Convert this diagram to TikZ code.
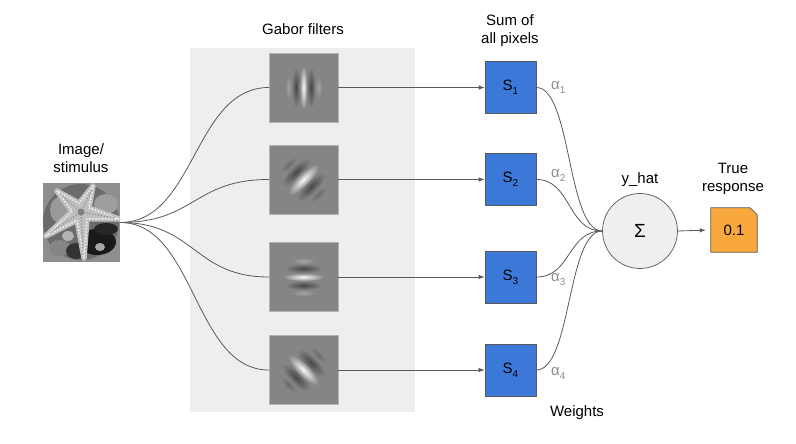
\documentclass[tikz,border=0pt]{standalone}
\usepackage{fontspec}
\setmainfont{Liberation Sans}
\usetikzlibrary{arrows.meta,backgrounds}
\definecolor{panel}{HTML}{EEEEEE}
\definecolor{sblue}{HTML}{3C78D8}
\definecolor{edge}{HTML}{595959}
\definecolor{orng}{HTML}{F9A83E}
\definecolor{circfill}{HTML}{EFEFEF}
\definecolor{gbg}{HTML}{858585}
\definecolor{alph}{HTML}{8C8C8C}
\definecolor{imgbg}{HTML}{8E8E8E}
\begin{document}
\begin{tikzpicture}[x=1pt,y=-1pt,
  lbl/.style={font=\fontsize{15}{18}\selectfont, align=center, text=black, inner sep=0pt},
  sbox/.style={draw=edge, fill=sblue, minimum width=51pt, minimum height=52pt, line width=0.7pt, inner sep=0pt, font=\fontsize{15}{18}\selectfont},
  gabor/.style={fill=gbg, draw=gray!60, line width=0.4pt, minimum size=69pt, inner sep=0pt},
  conn/.style={draw=edge, line width=0.8pt},
  arr/.style={conn, -{Latex[length=6pt,width=4.5pt]}},
  alphalbl/.style={font=\fontsize{15}{18}\selectfont, text=alph, inner sep=0pt, anchor=west},
  darkstripe/.style={inner color=black!72, outer color=gbg},
  whitestripe/.style={inner color=white!95!gbg, outer color=gbg},
  faintstripe/.style={inner color=gbg!75!white, outer color=gbg},
  faintdark/.style={inner color=gbg!80!black, outer color=gbg}
]
\useasboundingbox (0,0) rectangle (796,444);

% panel
\fill[panel] (190,48) rectangle (415,412);

% texts
\node[lbl] (tgabor) at (303,29) {Gabor filters};
\node[lbl] (timg) at (81,158) {Image/\\stimulus};
\node[lbl] (tsum) at (510,31) {Sum of\\all pixels};
\node[lbl] (tyhat) at (640,180) {y\_hat};
\node[lbl] (ttrue) at (733,179) {True\\response};
\node[lbl] (tweights) at (577,413) {Weights};

% image / stimulus
\node[fill=imgbg, minimum width=77pt, minimum height=79pt, inner sep=0pt] (img) at (81.5,222.5) {};
\begin{scope}
  \clip (img.south west) rectangle (img.north east);
  \fill[black!58] (81,222) circle (38);
  \fill[black!38] (106,204) ellipse (12 and 10);
  \fill[black!40] (60,210) ellipse (10 and 13);
  \fill[black!48] (60,248) ellipse (11 and 8);
  \fill[black!30] (68,236) ellipse (6 and 5);
  \fill[black!90] (97,242) ellipse (19 and 13);
  \fill[black!80] (76,251) ellipse (10 and 8);
  \fill[black!85] (106,229) ellipse (12 and 6);
  \fill[black!35] (100,247) ellipse (5 and 4);
  \filldraw[fill=black!25, draw=black!25, line width=5.5pt, line join=round]
    (93,186) -- (79.1,203.2) -- (57,191) -- (72,211.4) -- (46,236) -- (77.1,220.1)
    -- (84,258) -- (87,218.7) -- (119,219) -- (89,207.9) -- cycle;
  \draw[white!92!black, line width=2.4pt, dash pattern=on 0pt off 3.2pt, line cap=round, line join=round]
    (93,186) -- (79.1,203.2) -- (57,191) -- (72,211.4) -- (46,236) -- (77.1,220.1)
    -- (84,258) -- (87,218.7) -- (119,219) -- (89,207.9) -- cycle;
  \draw[black!45, line width=1.6pt, dash pattern=on 0pt off 3pt, line cap=round]
    (81,212) -- (92,190) (81,212) -- (60,194) (81,212) -- (50,233) (81,212) -- (83,254) (81,212) -- (115,218);
  \fill[black!50] (81,212) circle (3.5);
\end{scope}

% gabor filters
\node[gabor] (g1) at (303.5,87.5) {};
\node[gabor] (g2) at (303.5,179.5) {};
\node[gabor] (g3) at (303.5,277) {};
\node[gabor] (g4) at (303.5,370) {};

\begin{scope}
  \clip (g1.south west) rectangle (g1.north east);
  \begin{scope}[shift={(g1.center)}]
    \shade[faintstripe] (-15,0) ellipse (3.5 and 12);
    \shade[faintstripe] (15,0) ellipse (3.5 and 12);
    \shade[darkstripe] (-7.5,0) ellipse (4.5 and 21);
    \shade[darkstripe] (7.5,0) ellipse (4.5 and 21);
    \shade[whitestripe] (0,0) ellipse (3.8 and 23);
  \end{scope}
\end{scope}
\begin{scope}
  \clip (g2.south west) rectangle (g2.north east);
  \begin{scope}[transform canvas={shift={(g2.center)}, rotate=-45}]
    \shade[faintdark] (-21,0) ellipse (4 and 11);
    \shade[faintdark] (21,0) ellipse (4 and 11);
    \shade[darkstripe] (-10.5,0) ellipse (6.5 and 19);
    \shade[darkstripe] (10.5,0) ellipse (6.5 and 19);
    \shade[whitestripe] (0,0) ellipse (6 and 21);
  \end{scope}
\end{scope}
\begin{scope}
  \clip (g3.south west) rectangle (g3.north east);
  \begin{scope}[shift={(g3.center)}]
    \shade[faintstripe] (0,-16) ellipse (12 and 3.5);
    \shade[faintstripe] (0,16) ellipse (12 and 3.5);
    \shade[darkstripe] (0,-8.5) ellipse (19 and 4.5);
    \shade[darkstripe] (0,8.5) ellipse (19 and 4.5);
    \shade[whitestripe] (0,0) ellipse (21 and 4);
  \end{scope}
\end{scope}
\begin{scope}
  \clip (g4.south west) rectangle (g4.north east);
  \begin{scope}[transform canvas={shift={(g4.center)}, rotate=45}]
    \shade[faintdark] (-21,0) ellipse (4 and 11);
    \shade[faintdark] (21,0) ellipse (4 and 11);
    \shade[darkstripe] (-10.5,0) ellipse (6.5 and 19);
    \shade[darkstripe] (10.5,0) ellipse (6.5 and 19);
    \shade[whitestripe] (0,0) ellipse (6 and 21);
  \end{scope}
\end{scope}

% sum boxes
\node[sbox] (s1) at (510.5,87.5) {S\raisebox{-4pt}{\fontsize{10}{10}\selectfont 1}};
\node[sbox] (s2) at (510.5,179.5) {S\raisebox{-4pt}{\fontsize{10}{10}\selectfont 2}};
\node[sbox] (s3) at (510.5,277) {S\raisebox{-4pt}{\fontsize{10}{10}\selectfont 3}};
\node[sbox] (s4) at (510.5,370) {S\raisebox{-4pt}{\fontsize{10}{10}\selectfont 4}};

% sum circle
\node[circle, draw=edge, fill=circfill, line width=0.7pt, minimum size=75pt, inner sep=0pt,
      font=\fontsize{19}{22}\selectfont] (sum) at (640,231) {Σ};

% true response
\node[minimum width=46pt, minimum height=44pt, inner sep=0pt, font=\fontsize{15}{18}\selectfont] (tr) at (734,230) {0.1};
\begin{scope}[on background layer]
  \filldraw[fill=orng, draw=edge, line width=0.7pt]
    (tr.south west) -- (tr.north west) -- ([xshift=-7pt]tr.north east)
    -- ([yshift=-7pt]tr.north east) -- (tr.south east) -- cycle;
\end{scope}

% connectors image -> gabors
\draw[conn] (img.east) .. controls +(75,0) and +(-75,0) .. (g1.west);
\draw[conn] (img.east) .. controls +(75,0) and +(-75,0) .. (g2.west);
\draw[conn] (img.east) .. controls +(75,0) and +(-75,0) .. (g3.west);
\draw[conn] (img.east) .. controls +(75,0) and +(-75,0) .. (g4.west);

% gabors -> sums
\draw[arr] (g1.east) -- (s1.west);
\draw[arr] (g2.east) -- (s2.west);
\draw[arr] (g3.east) -- (s3.west);
\draw[arr] (g4.east) -- (s4.west);

% sums -> circle
\draw[conn] (s1.east) .. controls +(35,0) and +(-35,0) .. (sum.west);
\draw[conn] (s2.east) .. controls +(35,0) and +(-35,0) .. (sum.west);
\draw[conn] (s3.east) .. controls +(35,0) and +(-35,0) .. (sum.west);
\draw[conn] (s4.east) .. controls +(35,0) and +(-35,0) .. (sum.west);

% circle -> true response
\draw[arr, shorten >=5pt] (sum.east) -- (tr.west);

% weights
\node[alphalbl] (a1) at (551,87) {α\raisebox{-4pt}{\fontsize{10}{10}\selectfont 1}};
\node[alphalbl] (a2) at (551,175) {α\raisebox{-4pt}{\fontsize{10}{10}\selectfont 2}};
\node[alphalbl] (a3) at (551,280) {α\raisebox{-4pt}{\fontsize{10}{10}\selectfont 3}};
\node[alphalbl] (a4) at (551,373) {α\raisebox{-4pt}{\fontsize{10}{10}\selectfont 4}};
\end{tikzpicture}
\end{document}
